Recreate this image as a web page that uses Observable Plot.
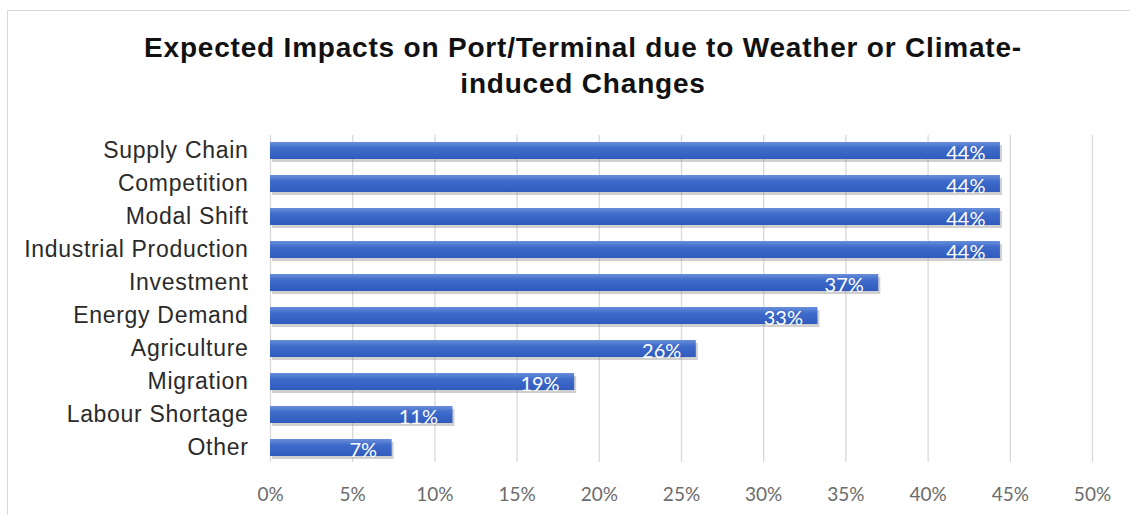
<!DOCTYPE html>
<html>
<head>
<meta charset="utf-8">
<script src="https://cdn.jsdelivr.net/npm/d3@7"></script>
<script src="https://cdn.jsdelivr.net/npm/@observablehq/plot@0.6"></script>
<style>
  html, body { margin: 0; padding: 0; background: #fff; }
  #wrap { position: relative; width: 1130px; height: 515px; overflow: hidden; }
  #frame { position: absolute; left: 7px; top: 10px; width: 1140px; height: 520px; border: 1.5px solid #d9d9d9; box-sizing: border-box; }
  #title { position: absolute; left: 18px; top: 30px; width: 1130px; text-align: center;
    font-family: "Liberation Sans", Arial, sans-serif; font-weight: bold;
    font-size: 28px; line-height: 36px; letter-spacing: 0.8px; color: #111; }
  #chart { position: absolute; left: 0; top: 0; }
</style>
</head>
<body>
<div id="wrap">
  <div id="frame"></div>
  <div id="title">Expected Impacts on Port/Terminal due to Weather or Climate-<br>induced Changes</div>
  <div id="chart"></div>
</div>
<script>
const categories = ["Supply Chain", "Competition", "Modal Shift", "Industrial Production", "Investment",
  "Energy Demand", "Agriculture", "Migration", "Labour Shortage", "Other"];
const values = [44.4, 44.4, 44.4, 44.4, 37.0, 33.3, 25.9, 18.5, 11.1, 7.4];
const valueLabels = ["44%", "44%", "44%", "44%", "37%", "33%", "26%", "19%", "11%", "7%"];
const xTicks = [0, 5, 10, 15, 20, 25, 30, 35, 40, 45, 50];

const data = categories.map((c, i) => ({category: c, value: values[i], label: valueLabels[i]}));

const plot = Plot.plot({
  width: 1130,
  height: 515,
  marginLeft: 270,
  marginRight: 38,
  marginTop: 135,
  marginBottom: 53,
  style: {background: "transparent", overflow: "visible"},
  x: {domain: [0, 50], ticks: xTicks, tickFormat: d => d + "%", label: null},
  y: {domain: categories, paddingInner: 0.5, paddingOuter: 0.2, label: null},
  marks: [
    Plot.gridX(xTicks, {stroke: "#d9d9d9", strokeOpacity: 1, strokeWidth: 1.3}),
    Plot.barX(data, {x: "value", y: "category", fill: "#777", fillOpacity: 0.35, dx: 2, dy: 3}),
    Plot.barX(data, {x: "value", y: "category", fill: "url(#barGrad)"}),
    Plot.text(data, {x: "value", y: "category", text: "label", textAnchor: "end", dx: -15, dy: 3,
      fill: "white", fontSize: 20, fontFamily: "Lato, 'Open Sans', sans-serif"}),
    Plot.axisX({ticks: xTicks, tickFormat: d => d + "%", tickSize: 0, tickPadding: 25, fontSize: 19,
      fontFamily: "Lato, 'Open Sans', sans-serif", fill: "#6b6b6b", label: null}),
    Plot.axisY({tickSize: 0, tickPadding: 22, fontSize: 23, fill: "#2a2a2a",
      fontFamily: "'Liberation Sans', Arial, sans-serif", label: null})
  ]
});

const svg = d3.select(plot);
const defs = svg.insert("defs", ":first-child");
const g = defs.append("linearGradient").attr("id", "barGrad").attr("x1", 0).attr("y1", 0).attr("x2", 0).attr("y2", 1);
g.append("stop").attr("offset", "0%").attr("stop-color", "#6a8fda");
g.append("stop").attr("offset", "35%").attr("stop-color", "#3f6ccb");
g.append("stop").attr("offset", "100%").attr("stop-color", "#2f5bbd");
svg.selectAll("text").style("font-weight", "normal");
svg.selectAll("[aria-label='y-axis tick label'] text").style("letter-spacing", "0.7px");

document.getElementById("chart").appendChild(plot);
</script>
</body>
</html>
